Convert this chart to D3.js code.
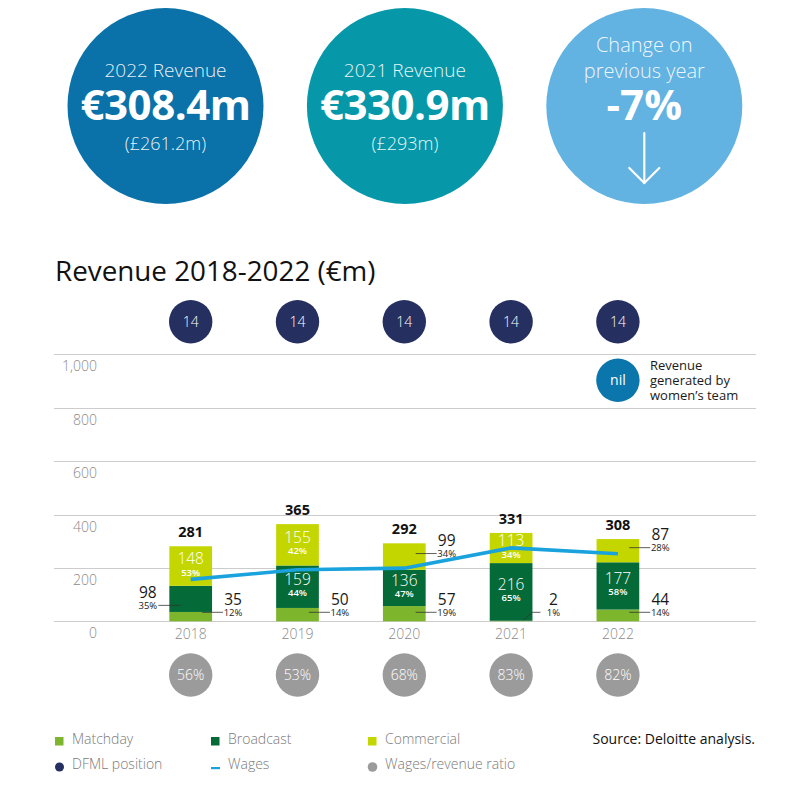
<!DOCTYPE html>
<html>
<head>
<meta charset="utf-8">
<script src="https://cdn.jsdelivr.net/npm/d3@7"></script>
<style>
  html, body { margin: 0; padding: 0; background: #ffffff; }
  svg { display: block; font-family: "Open Sans", "Noto Sans", sans-serif; }
</style>
</head>
<body>
<svg id="chart" width="812" height="787"></svg>
<script>
// ---------- DATA ----------
const years = ["2018", "2019", "2020", "2021", "2022"];
const matchday = [35, 50, 57, 2, 44];
const broadcast = [98, 159, 136, 216, 177];
const commercial = [148, 155, 99, 113, 87];
const totals = [281, 365, 292, 331, 308];
const matchdayPct = ["12%", "14%", "19%", "1%", "14%"];
const broadcastPct = ["35%", "44%", "47%", "65%", "58%"];
const commercialPct = ["53%", "42%", "34%", "34%", "28%"];
const wages = [157, 193, 199, 275, 253];
const wageRatio = ["56%", "53%", "68%", "83%", "82%"];
const dfmlPosition = [14, 14, 14, 14, 14];
const yTicks = [0, 200, 400, 600, 800, 1000];

const headlineLabels = ["2022 Revenue", "2021 Revenue"];
const headlineValues = ["€308.4m", "€330.9m"];
const headlineGbp = ["(£261.2m)", "(£293m)"];
const changeLabel = ["Change on", "previous year"];
const changeValue = "-7%";
const womenRevenue = "nil";
const womenLabel = ["Revenue", "generated by", "women’s team"];
const title = "Revenue 2018-2022 (€m)";
const source = "Source: Deloitte analysis.";
const legendRow1 = ["Matchday", "Broadcast", "Commercial"];
const legendRow2 = ["DFML position", "Wages", "Wages/revenue ratio"];

// ---------- STYLE ----------
const C = {
  matchday: "#7db52c",
  broadcast: "#046a38",
  commercial: "#c4d600",
  wages: "#1aa2dc",
  dfml: "#252f60",
  ratio: "#9b9b9b",
  grid: "#cccccc",
  axis: "#8a8a8a",
  legend: "#7a7a7a",
  circ1: "#0a72a8",
  circ2: "#0698a9",
  circ3: "#62b2e2",
  nil: "#0a76ab"
};

const svg = d3.select("#chart");

// ---------- HEADLINE CIRCLES ----------
const headX = d3.scalePoint().domain([0, 1, 2]).range([165.5, 644.3]);
const headR = 98, headY = 106;
const headColors = [C.circ1, C.circ2, C.circ3];
svg.append("g").selectAll("circle").data(headColors).join("circle")
  .attr("cx", (d, i) => headX(i)).attr("cy", headY).attr("r", headR).attr("fill", d => d);

headlineLabels.forEach((lab, i) => {
  const g = svg.append("g").attr("text-anchor", "middle").attr("fill", "#ffffff");
  g.append("text").attr("x", headX(i)).attr("y", 77).attr("font-size", 19).attr("font-weight", 300)
    .attr("fill-opacity", 0.92).text(lab);
  g.append("text").attr("x", headX(i)).attr("y", 120).attr("font-size", 42).attr("font-weight", 700)
    .attr("letter-spacing", -0.5).text(headlineValues[i]);
  g.append("text").attr("x", headX(i)).attr("y", 150).attr("font-size", 18).attr("font-weight", 300)
    .attr("fill-opacity", 0.92).text(headlineGbp[i]);
});
{
  const cx = headX(2);
  const g = svg.append("g").attr("text-anchor", "middle").attr("fill", "#ffffff");
  g.append("text").attr("x", cx).attr("y", 52).attr("font-size", 20).attr("font-weight", 300)
    .attr("fill-opacity", 0.92).text(changeLabel[0]);
  g.append("text").attr("x", cx).attr("y", 78).attr("font-size", 20).attr("font-weight", 300)
    .attr("fill-opacity", 0.92).text(changeLabel[1]);
  g.append("text").attr("x", cx).attr("y", 120).attr("font-size", 42).attr("font-weight", 700)
    .text(changeValue);
  const a = svg.append("g").attr("stroke", "#ffffff").attr("stroke-width", 2.2).attr("fill", "none")
    .attr("stroke-linecap", "round");
  a.append("line").attr("x1", cx).attr("x2", cx).attr("y1", 133).attr("y2", 183);
  a.append("polyline").attr("points", `${cx - 15},${168} ${cx},${183} ${cx + 15},${168}`);
}

// ---------- TITLE ----------
svg.append("text").attr("x", 55).attr("y", 281).attr("font-size", 27.8).attr("fill", "#111")
  .text(title);

// ---------- SCALES ----------
const x = d3.scaleBand().domain(years).range([137.3, 671.3]).paddingInner(0.6).paddingOuter(0.3);
const y = d3.scaleLinear().domain([0, 1000]).range([621.3, 354.3]);
const cxOf = yr => x(yr) + x.bandwidth() / 2;

// ---------- GRID ----------
const grid = svg.append("g");
grid.selectAll("line").data(yTicks).join("line")
  .attr("x1", 54).attr("x2", 756)
  .attr("y1", d => Math.round(y(d)) + 0.5).attr("y2", d => Math.round(y(d)) + 0.5)
  .attr("stroke", C.grid).attr("stroke-width", 1);
grid.selectAll("text").data(yTicks).join("text")
  .attr("x", 97).attr("y", d => y(d) + 17).attr("text-anchor", "end")
  .attr("font-size", 14).attr("font-weight", 300).attr("fill", C.axis)
  .text(d => d3.format(",")(d));

// year axis labels
svg.append("g").selectAll("text").data(years).join("text")
  .attr("x", d => cxOf(d)).attr("y", y(0) + 17.5).attr("text-anchor", "middle")
  .attr("font-size", 14).attr("font-weight", 300).attr("fill", C.axis).text(d => d);

// ---------- STACKED BARS ----------
const rows = years.map((yr, i) => ({ year: yr, matchday: matchday[i], broadcast: broadcast[i], commercial: commercial[i] }));
const keys = ["matchday", "broadcast", "commercial"];
const pcts = { matchday: matchdayPct, broadcast: broadcastPct, commercial: commercialPct };
const stack = d3.stack().keys(keys)(rows);

const barG = svg.append("g");
stack.forEach(layer => {
  barG.append("g").attr("fill", C[layer.key]).selectAll("rect").data(layer).join("rect")
    .attr("x", d => x(d.data.year)).attr("width", x.bandwidth())
    .attr("y", d => y(d[1])).attr("height", d => y(d[0]) - y(d[1]));
});

// ---------- WAGES LINE ----------
const line = d3.line().x((d, i) => cxOf(years[i])).y(d => y(d));
svg.append("path").datum(wages).attr("d", line).attr("fill", "none")
  .attr("stroke", C.wages).attr("stroke-width", 3.6).attr("stroke-linejoin", "round");

// ---------- SEGMENT LABELS ----------
const labG = svg.append("g");
stack.forEach(layer => {
  layer.forEach((d, i) => {
    const key = layer.key;
    const val = d[1] - d[0];
    const pct = pcts[key][i];
    const x0 = x(years[i]), x1 = x0 + x.bandwidth();
    const mid = (y(d[0]) + y(d[1])) / 2;
    const inside = key !== "matchday" && val >= 100;
    if (inside) {
      labG.append("text").attr("x", cxOf(years[i])).attr("y", mid - 2).attr("text-anchor", "middle")
        .attr("font-size", 15.5).attr("font-weight", 300).attr("fill", "#ffffff").text(val);
      labG.append("text").attr("x", cxOf(years[i])).attr("y", mid + 9.5).attr("text-anchor", "middle")
        .attr("font-size", 9.5).attr("font-weight", 600).attr("fill", "#ffffff").text(pct);
      return;
    }
    let ly;
    if (key === "matchday") ly = y(0) - 9;
    else if (key === "commercial") ly = mid - 3;
    else ly = mid + 6.5;
    const left = key === "broadcast";
    const tx = left ? x0 - 21.5 : x1 + 21;
    const tiny = (y(d[0]) - y(d[1])) < 4;
    let pts;
    if (left) pts = [[x0 + 11, ly], [x0 - 11, ly]];
    else if (tiny) pts = [[x1 - 9, y(0) - 1.5], [x1, ly], [x1 + 8, ly]];
    else pts = [[x1 - 10, ly], [x1 + 11, ly]];
    labG.append("path").attr("d", d3.line()(pts)).attr("fill", "none")
      .attr("stroke", "#333").attr("stroke-width", 0.8);
    labG.append("text").attr("x", tx).attr("y", ly - 7.5).attr("text-anchor", "middle")
      .attr("font-size", 15.5).attr("font-weight", 400).attr("fill", "#1a1a1a").text(val);
    labG.append("text").attr("x", tx).attr("y", ly + 3.3).attr("text-anchor", "middle")
      .attr("font-size", 9.5).attr("font-weight", 400).attr("fill", "#1a1a1a").text(pct);
  });
});

// totals
svg.append("g").selectAll("text").data(totals).join("text")
  .attr("x", (d, i) => cxOf(years[i])).attr("y", d => y(d) - 9).attr("text-anchor", "middle")
  .attr("font-size", 14.5).attr("font-weight", 700).attr("fill", "#111").text(d => d);

// ---------- DFML POSITION CIRCLES ----------
const dG = svg.append("g");
dG.selectAll("circle").data(dfmlPosition).join("circle")
  .attr("cx", (d, i) => cxOf(years[i])).attr("cy", 321.7).attr("r", 21.7).attr("fill", C.dfml);
dG.selectAll("text").data(dfmlPosition).join("text")
  .attr("x", (d, i) => cxOf(years[i])).attr("y", 326.7).attr("text-anchor", "middle")
  .attr("font-size", 14).attr("font-weight", 300).attr("fill", "#ffffff").text(d => d);

// ---------- WAGES/REVENUE RATIO CIRCLES ----------
const rG = svg.append("g");
rG.selectAll("circle").data(wageRatio).join("circle")
  .attr("cx", (d, i) => cxOf(years[i])).attr("cy", 675).attr("r", 21.7).attr("fill", C.ratio);
rG.selectAll("text").data(wageRatio).join("text")
  .attr("x", (d, i) => cxOf(years[i])).attr("y", 680).attr("text-anchor", "middle")
  .attr("font-size", 14).attr("font-weight", 300).attr("fill", "#ffffff").text(d => d);

// ---------- WOMEN'S TEAM ----------
{
  const cx = cxOf(years[4]);
  svg.append("circle").attr("cx", cx).attr("cy", 380.3).attr("r", 21.7).attr("fill", C.nil);
  svg.append("text").attr("x", cx).attr("y", 385.3).attr("text-anchor", "middle")
    .attr("font-size", 14).attr("fill", "#ffffff").text(womenRevenue);
  svg.append("g").selectAll("text").data(womenLabel).join("text")
    .attr("x", 650).attr("y", (d, i) => 369.5 + i * 15.3)
    .attr("font-size", 13).attr("fill", "#1a1a1a").text(d => d);
}

// ---------- LEGEND ----------
const legX = [55, 211, 368];
const lg = svg.append("g");
const sq = [C.matchday, C.broadcast, C.commercial];
legendRow1.forEach((t, i) => {
  lg.append("rect").attr("x", legX[i]).attr("y", 737).attr("width", 8.5).attr("height", 8.5).attr("fill", sq[i]);
  lg.append("text").attr("x", legX[i] + 17).attr("y", 744).attr("font-size", 14).attr("font-weight", 300)
    .attr("fill", C.legend).text(t);
});
lg.append("circle").attr("cx", legX[0] + 4.5).attr("cy", 767).attr("r", 4.5).attr("fill", C.dfml);
lg.append("rect").attr("x", legX[1]).attr("y", 767).attr("width", 9).attr("height", 2.2).attr("fill", C.wages);
lg.append("circle").attr("cx", legX[2] + 4.5).attr("cy", 767).attr("r", 4.8).attr("fill", C.ratio);
legendRow2.forEach((t, i) => {
  lg.append("text").attr("x", legX[i] + 17).attr("y", 769).attr("font-size", 14).attr("font-weight", 300)
    .attr("fill", C.legend).text(t);
});
svg.append("text").attr("x", 755).attr("y", 744).attr("text-anchor", "end")
  .attr("font-size", 14).attr("fill", "#111").text(source);
</script>
</body>
</html>
